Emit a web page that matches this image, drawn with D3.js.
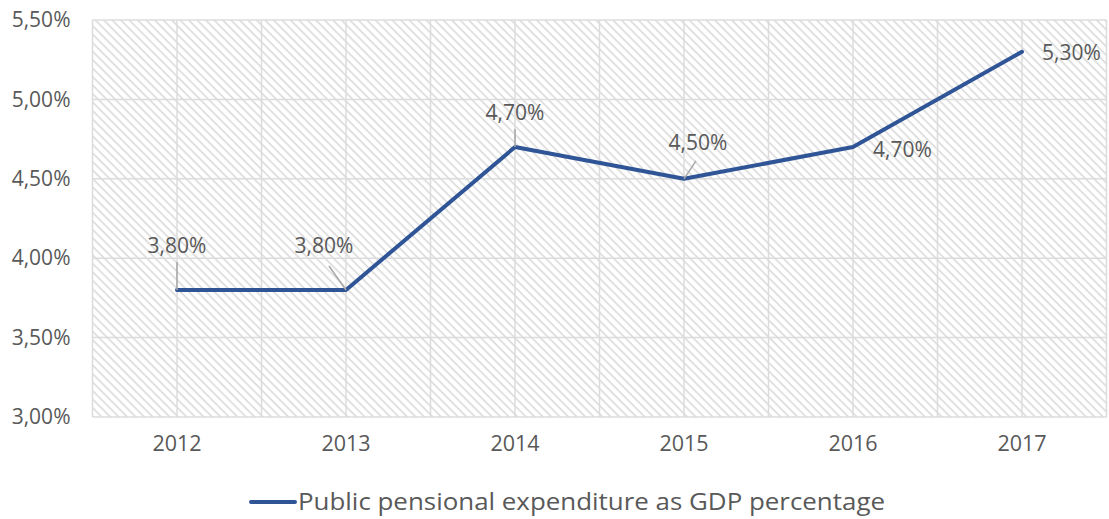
<!DOCTYPE html>
<html>
<head>
<meta charset="utf-8">
<script src="https://cdn.jsdelivr.net/npm/d3@7"></script>
<style>
  html, body { margin: 0; padding: 0; background: #ffffff; }
  svg { display: block; }
  text { font-family: "Open Sans", Lato, sans-serif; fill: #595959; }
</style>
</head>
<body>
<svg id="chart" width="1109" height="519"></svg>
<script>
// Public pensional expenditure as share of GDP, 2012–2017
const years = ["2012", "2013", "2014", "2015", "2016", "2017"];
const values = [3.8, 3.8, 4.7, 4.5, 4.7, 5.3];
const yTicks = [3.0, 3.5, 4.0, 4.5, 5.0, 5.5];
const seriesName = "Public pensional expenditure as GDP percentage";

// Label placement relative to each point: offsets and optional leader line
const labelPlacement = [
  { dx: 0,   dy: -37, anchor: "middle", leader: [0, -28] },
  { dx: -22, dy: -37, anchor: "middle", leader: [-17, -24] },
  { dx: 0,   dy: -27, anchor: "middle", leader: [0, -18] },
  { dx: 14,  dy: -29, anchor: "middle", leader: [12, -18] },
  { dx: 20,  dy: 10,  anchor: "start",  leader: null },
  { dx: 20,  dy: 8,   anchor: "start",  leader: null }
];

const fmt = v => v.toFixed(2).replace(".", ",") + "%";

const svg = d3.select("#chart");
const margin = { left: 92.5, right: 2.5, top: 20, bottom: 102 };
const W = 1109, H = 519;
const plotW = W - margin.left - margin.right;
const plotH = H - margin.top - margin.bottom;

const x = d3.scaleBand().domain(years).range([margin.left, margin.left + plotW]);
const xc = d => x(d) + x.bandwidth() / 2;
const y = d3.scaleLinear().domain([3.0, 5.5]).range([margin.top + plotH, margin.top]);

// Diagonal hatch fill for the plot area
const defs = svg.append("defs");
const pat = defs.append("pattern")
  .attr("id", "hatch")
  .attr("patternUnits", "userSpaceOnUse")
  .attr("width", 6).attr("height", 6)
  .attr("patternTransform", "rotate(45)");
pat.append("rect").attr("width", 6).attr("height", 6).attr("fill", "#ffffff");
pat.append("line")
  .attr("x1", 0).attr("y1", 0).attr("x2", 6).attr("y2", 0)
  .attr("stroke", "#d8d8d8").attr("stroke-width", 3);

svg.append("rect")
  .attr("x", margin.left).attr("y", margin.top)
  .attr("width", plotW).attr("height", plotH)
  .attr("fill", "url(#hatch)");

// Gridlines
const grid = svg.append("g").attr("stroke", "#dcdcdc").attr("stroke-width", 1.5);
yTicks.forEach(t => {
  grid.append("line")
    .attr("x1", margin.left).attr("x2", margin.left + plotW)
    .attr("y1", y(t)).attr("y2", y(t));
});
const vLines = [];
years.forEach(yr => { vLines.push(x(yr)); vLines.push(xc(yr)); });
vLines.push(margin.left + plotW);
vLines.forEach(vx => {
  grid.append("line")
    .attr("x1", vx).attr("x2", vx)
    .attr("y1", margin.top).attr("y2", margin.top + plotH);
});

const tickFont = "\"Open Sans\", Lato, sans-serif";

// Y axis labels
const yAxis = d3.axisLeft(y).tickValues(yTicks).tickFormat(fmt).tickSize(0).tickPadding(22);
const gy = svg.append("g").attr("transform", `translate(${margin.left},0)`).call(yAxis);
gy.select(".domain").remove();
gy.selectAll("text").attr("font-size", 21).style("font-family", tickFont).attr("fill", "#595959");

// X axis labels
const xAxis = d3.axisBottom(x).tickSize(0).tickPadding(19);
const gx = svg.append("g").attr("transform", `translate(0,${margin.top + plotH})`).call(xAxis);
gx.select(".domain").remove();
gx.selectAll("text").attr("font-size", 21.5).style("font-family", tickFont).attr("fill", "#595959");

// Series line
const line = d3.line().x((d, i) => xc(years[i])).y(d => y(d));
svg.append("path")
  .datum(values)
  .attr("d", line)
  .attr("fill", "none")
  .attr("stroke", "#2f5597")
  .attr("stroke-width", 4)
  .attr("stroke-linejoin", "round")
  .attr("stroke-linecap", "round");

// Data labels with leader lines
values.forEach((v, i) => {
  const px = xc(years[i]), py = y(v);
  const p = labelPlacement[i];
  if (p.leader) {
    svg.append("line")
      .attr("x1", px).attr("y1", py)
      .attr("x2", px + p.leader[0]).attr("y2", py + p.leader[1])
      .attr("stroke", "#a6a6a6").attr("stroke-width", 1.5);
  }
  svg.append("text")
    .attr("x", px + p.dx).attr("y", py + p.dy)
    .attr("text-anchor", p.anchor)
    .attr("font-size", 21)
    .text(fmt(v));
});

// Legend
const lg = svg.append("g").attr("transform", "translate(251,502)");
lg.append("line").attr("x1", 0).attr("x2", 44).attr("y1", 0).attr("y2", 0)
  .attr("stroke", "#2f5597").attr("stroke-width", 4).attr("stroke-linecap", "round");
lg.append("text").attr("x", 47).attr("y", 8).attr("font-size", 23)
  .attr("textLength", 587).attr("lengthAdjust", "spacingAndGlyphs")
  .text(seriesName);
</script>
</body>
</html>
